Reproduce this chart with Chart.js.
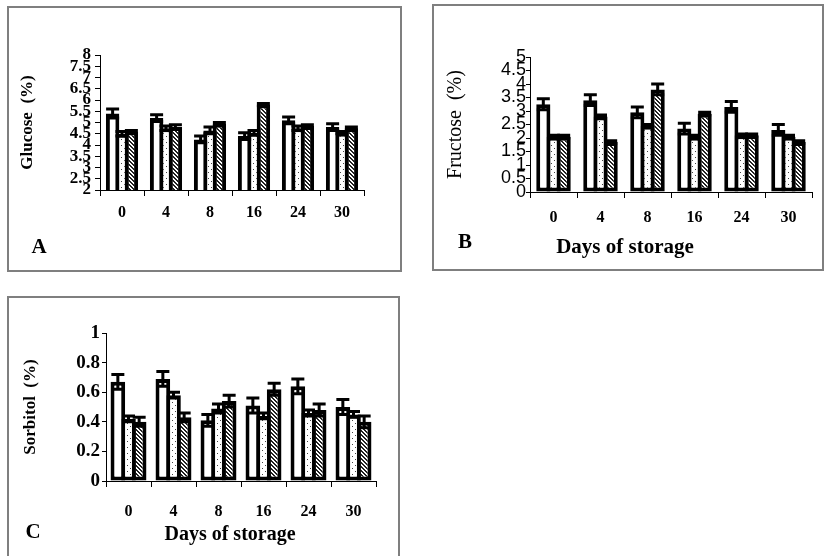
<!DOCTYPE html>
<html>
<head>
<meta charset="utf-8">
<script src="https://cdn.jsdelivr.net/npm/chart.js@4/dist/chart.umd.min.js"></script>
<style>
  body { margin: 0; background: #fff; width: 824px; height: 556px; overflow: hidden; position: relative; }
  .frame { position: absolute; border: 2px solid #7f7f7f; box-sizing: border-box; }
  canvas { position: absolute; }
</style>
</head>
<body>
<div class="frame" style="left:7px;top:6px;width:395px;height:266px"></div>
<div class="frame" style="left:432px;top:4px;width:392px;height:267px"></div>
<div class="frame" style="left:7px;top:296px;width:393px;height:270px"></div>
<canvas id="chartA" width="410" height="285" style="left:0;top:0"></canvas>
<canvas id="chartB" width="412" height="285" style="left:412px;top:0"></canvas>
<canvas id="chartC" width="410" height="266" style="left:0;top:290px"></canvas>
<script>
// days of storage
var days = ['0', '4', '8', '16', '24', '30'];

// glucose (%)
var glucoseWhite   = [5.4, 5.2, 4.25, 4.4, 5.1, 4.8];
var glucoseDotted  = [4.5, 4.75, 4.65, 4.55, 4.75, 4.55];
var glucoseHatched = [4.6, 4.8, 4.95, 5.8, 4.85, 4.75];
var glucoseWhiteErr   = [0.2, 0.15, 0.15, 0.15, 0.15, 0.15];
var glucoseDottedErr  = [0.1, 0.1, 0.15, 0.1, 0.1, 0.05];
var glucoseHatchedErr = [0.05, 0.1, 0.05, 0.05, 0.05, 0.05];

// fructose (%)
var fructoseWhite   = [3.25, 3.4, 2.95, 2.35, 3.15, 2.3];
var fructoseDotted  = [2.05, 2.8, 2.45, 2.05, 2.1, 2.05];
var fructoseHatched = [2.05, 1.85, 3.8, 2.9, 2.1, 1.85];
var fructoseWhiteErr   = [0.2, 0.2, 0.2, 0.2, 0.2, 0.2];
var fructoseDottedErr  = [0.05, 0.05, 0.05, 0.05, 0.05, 0.05];
var fructoseHatchedErr = [0.05, 0.05, 0.2, 0.05, 0.05, 0.05];

// sorbitol (%)
var sorbitolWhite   = [0.67, 0.69, 0.41, 0.51, 0.64, 0.5];
var sorbitolDotted  = [0.42, 0.58, 0.49, 0.44, 0.46, 0.45];
var sorbitolHatched = [0.4, 0.43, 0.54, 0.62, 0.48, 0.4];
var sorbitolWhiteErr   = [0.05, 0.05, 0.04, 0.05, 0.05, 0.05];
var sorbitolDottedErr  = [0.02, 0.02, 0.03, 0.02, 0.02, 0.02];
var sorbitolHatchedErr = [0.03, 0.03, 0.04, 0.04, 0.04, 0.04];

function dotPattern() {
    var c = document.createElement('canvas');
    c.width = 6; c.height = 6;
    var x = c.getContext('2d');
    x.fillStyle = '#fff'; x.fillRect(0, 0, 6, 6);
    x.fillStyle = '#444';
    x.fillRect(1, 1, 1, 1);
    x.fillRect(4, 4, 1, 1);
    return x.createPattern(c, 'repeat');
}
function hatchPattern() {
    var c = document.createElement('canvas');
    c.width = 4; c.height = 4;
    var x = c.getContext('2d');
    x.fillStyle = '#fff'; x.fillRect(0, 0, 4, 4);
    x.fillStyle = '#222';
    for (var i = 0; i < 4; i++) {
        x.fillRect(i, i, 1, 1);
        x.fillRect((i + 1) % 4, i, 1, 1);
    }
    return x.createPattern(c, 'repeat');
}
var dots = dotPattern();
var hatch = hatchPattern();

// error bars drawn from the bar elements and the y scale
var errorBars = {
    id: 'errorBars',
    afterDatasetsDraw: function(chart) {
        var ctx = chart.ctx, ys = chart.scales.y;
        ctx.save();
        ctx.strokeStyle = '#000';
        ctx.lineWidth = 3;
        chart.data.datasets.forEach(function(ds, i) {
            chart.getDatasetMeta(i).data.forEach(function(bar, j) {
                var v = ds.data[j], e = ds.errors[j];
                var top = ys.getPixelForValue(v + e), bot = ys.getPixelForValue(v - e);
                var half = 6.5;
                ctx.beginPath();
                ctx.moveTo(bar.x, top); ctx.lineTo(bar.x, bot);
                ctx.moveTo(bar.x - half, top); ctx.lineTo(bar.x + half, top);
                ctx.moveTo(bar.x - half, bot); ctx.lineTo(bar.x + half, bot);
                ctx.stroke();
            });
        });
        ctx.restore();
    }
};

// free text (panel letter, x title)
var panelText = {
    id: 'panelText',
    afterDraw: function(chart, args, opts) {
        var ctx = chart.ctx;
        (opts.items || []).forEach(function(t) {
            ctx.save();
            ctx.font = t.font;
            ctx.fillStyle = '#000';
            ctx.textAlign = t.align || 'center';
            ctx.textBaseline = 'middle';
            ctx.fillText(t.text, t.x, t.y);
            ctx.restore();
        });
    }
};

function makeChart(id, o) {
    return new Chart(document.getElementById(id), {
        type: 'bar',
        data: {
            labels: days,
            datasets: [
                { data: o.white, errors: o.whiteErr, backgroundColor: '#fff' },
                { data: o.dotted, errors: o.dottedErr, backgroundColor: dots },
                { data: o.hatched, errors: o.hatchedErr, backgroundColor: hatch }
            ].map(function(d) {
                d.borderColor = '#000';
                d.borderWidth = 4;
                d.borderSkipped = false;
                d.barPercentage = o.barPct;
                d.categoryPercentage = o.catPct;
                return d;
            })
        },
        plugins: [errorBars, panelText],
        options: {
            responsive: false,
            devicePixelRatio: 1,
            animation: false,
            layout: { padding: o.padding },
            plugins: {
                legend: { display: false },
                tooltip: { enabled: false },
                panelText: { items: o.texts }
            },
            scales: {
                x: {
                    grid: { display: true, drawOnChartArea: false, offset: true, color: '#000', tickLength: 6 },
                    border: { color: '#000', width: 1 },
                    ticks: { color: '#000', padding: o.xPad, font: { family: 'Liberation Serif', size: 16, weight: 'bold' } },
                    afterFit: function(s) { s.height = 40; }
                },
                y: {
                    min: o.min, max: o.max,
                    grid: { display: true, drawOnChartArea: false, color: '#000', tickLength: o.yTick },
                    border: { color: '#000', width: 1 },
                    ticks: {
                        stepSize: o.step, autoSkip: false, color: '#000', padding: o.yPad, font: o.yFont,
                        callback: function(v) { return String(+v.toFixed(2)); }
                    },
                    title: { display: true, text: o.yTitle, color: '#000', font: o.titleFont },
                    afterFit: function(s) { s.width = o.yWidth; }
                }
            }
        }
    });
}

makeChart('chartA', {
    white: glucoseWhite, dotted: glucoseDotted, hatched: glucoseHatched,
    whiteErr: glucoseWhiteErr, dottedErr: glucoseDottedErr, hatchedErr: glucoseHatchedErr,
    min: 2, max: 8, step: 0.5, catPct: 0.64, barPct: 1.43,
    padding: { left: 13, top: 55, right: 46, bottom: 55 },
    yWidth: 87, yTick: 5, yPad: 4, xPad: 7,
    yFont: { family: 'Liberation Serif', size: 17, weight: 'bold' },
    yTitle: 'Glucose  (%)',
    titleFont: { family: 'Liberation Serif', size: 17, weight: 'bold' },
    texts: [{ text: 'A', x: 39, y: 248, font: 'bold 21px "Liberation Serif"' }]
});

makeChart('chartB', {
    white: fructoseWhite, dotted: fructoseDotted, hatched: fructoseHatched,
    whiteErr: fructoseWhiteErr, dottedErr: fructoseDottedErr, hatchedErr: fructoseHatchedErr,
    min: 0, max: 5, step: 0.5, catPct: 0.65, barPct: 1.39,
    padding: { left: 28, top: 57, right: 12, bottom: 53 },
    yWidth: 90, yTick: 4, yPad: 0, xPad: 10,
    yFont: { family: 'Liberation Sans', size: 18 },
    yTitle: 'Fructose  (%)',
    titleFont: { family: 'Liberation Serif', size: 20 },
    texts: [
        { text: 'B', x: 53, y: 243, font: 'bold 21px "Liberation Serif"' },
        { text: 'Days of storage', x: 213, y: 248, font: 'bold 21px "Liberation Serif"' }
    ]
});

makeChart('chartC', {
    white: sorbitolWhite, dotted: sorbitolDotted, hatched: sorbitolHatched,
    whiteErr: sorbitolWhiteErr, dottedErr: sorbitolDottedErr, hatchedErr: sorbitolHatchedErr,
    min: 0, max: 1, step: 0.2, catPct: 0.71, barPct: 1.375,
    padding: { left: 16, top: 43, right: 34, bottom: 35 },
    yWidth: 90, yTick: 4, yPad: 2, xPad: 15,
    yFont: { family: 'Liberation Serif', size: 19, weight: 'bold' },
    yTitle: 'Sorbitol  (%)',
    titleFont: { family: 'Liberation Serif', size: 17, weight: 'bold' },
    texts: [
        { text: 'C', x: 33, y: 243, font: 'bold 21px "Liberation Serif"' },
        { text: 'Days of storage', x: 230, y: 245, font: 'bold 20px "Liberation Serif"' }
    ]
});
</script>
</body>
</html>
